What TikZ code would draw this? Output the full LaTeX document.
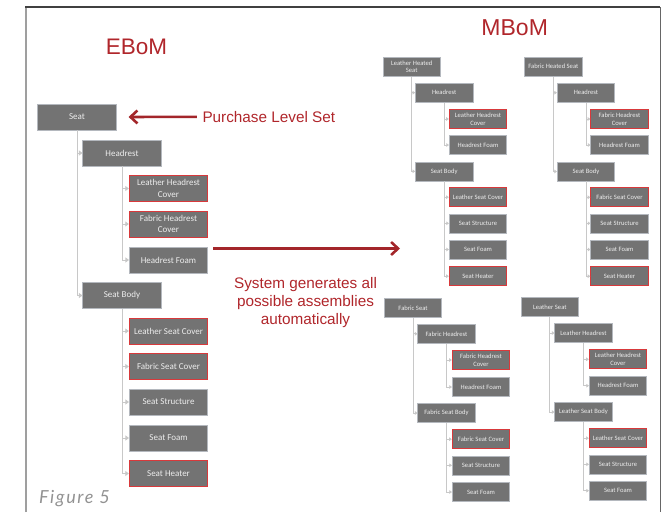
\documentclass[tikz,border=0pt]{standalone}
\usepackage{fontspec}
\setmainfont{Carlito}
\newfontfamily\labelfont{Liberation Sans}
\newfontfamily\figfont[LetterSpace=9]{Lato}
\usetikzlibrary{arrows.meta}

\definecolor{boxgray}{HTML}{737373}
\definecolor{boxedge}{HTML}{B4B8BE}
\definecolor{boxred}{HTML}{D8393B}
\definecolor{linegray}{HTML}{C8C8C8}
\definecolor{labred}{HTML}{B0262B}
\definecolor{arrred}{HTML}{A3262A}
\definecolor{capgray}{HTML}{929292}

\tikzset{
  box/.style={fill=boxgray, draw=boxedge, line width=0.6pt, text=white!93!black,
    align=center, inner sep=0pt},
  ebox/.style={box, minimum width=78.5pt, minimum height=26pt,
    font=\fontsize{9}{11.3}\selectfont},
  mbox/.style={box, minimum width=57.5pt, minimum height=19pt,
    font=\fontsize{6.6}{7.7}\selectfont},
  hot/.style={draw=boxred, line width=0.9pt},
  econn/.style={draw=linegray, line width=1pt,
    -{Triangle[length=3.5pt,width=5pt]}},
  mconn/.style={draw=linegray, line width=0.8pt,
    -{Triangle[length=2.6pt,width=3.6pt]}},
  bigarrow/.style={draw=arrred, line width=2.6pt,
    -{Straight Barb[length=7pt,width=13pt]}},
  redlabel/.style={text=labred, inner sep=0pt,
    font={\labelfont\fontsize{15.3}{18}\selectfont}},
}

\begin{document}
\begin{tikzpicture}[x=1pt,y=-1pt]
\useasboundingbox (0,0) rectangle (664,512);

% frame
\draw[draw=gray!75, line width=2pt] (26,512) -- (26,7);
\draw[draw=black!75, line width=1.4pt] (25,7) -- (660,7);
\draw[draw=black!60, line width=1pt] (660,7) -- (660,512);

% headings
\node[anchor=base, inner sep=0pt, text=labred,
  font={\labelfont\fontsize{22.5}{27}\selectfont}] (ebom) at (136.5,54) {EBoM};
\node[anchor=base, inner sep=0pt, text=labred,
  font={\labelfont\fontsize{23}{27}\selectfont}] (mbom) at (514.7,35) {MBoM};

% engineering bill of materials
\node[ebox] (e0) at (77,117) {Seat};
\node[ebox] (e1) at (122,153) {Headrest};
\node[ebox,hot] (e11) at (168.5,188.5) {Leather Headrest\\Cover};
\node[ebox,hot] (e12) at (168.5,224) {Fabric Headrest\\Cover};
\node[ebox] (e13) at (168.5,260) {Headrest Foam};
\node[ebox] (e2) at (122,295.5) {Seat Body};
\node[ebox,hot] (e21) at (168.5,331) {Leather Seat Cover};
\node[ebox,hot] (e22) at (168.5,366.5) {Fabric Seat Cover};
\node[ebox] (e23) at (168.5,402) {Seat Structure};
\node[ebox] (e24) at (168.5,438) {Seat Foam};
\node[ebox,hot] (e25) at (168.5,473.5) {Seat Heater};

\foreach \p/\c in {e0/e1,e0/e2,e1/e11,e1/e12,e1/e13,e2/e21,e2/e22,e2/e23,e2/e24,e2/e25}
  \draw[econn] (\p.south) |- (\c.west);

% manufacturing bill of materials: leather heated seat
\node[mbox] (a0) at (411.7,66.7) {Leather Heated\\Seat};
\node[mbox] (a1) at (444.2,92.7) {Headrest};
\node[mbox,hot] (a11) at (478,119) {Leather Headrest\\Cover};
\node[mbox] (a12) at (478,145) {Headrest Foam};
\node[mbox] (a2) at (444.2,171.3) {Seat Body};
\node[mbox,hot] (a21) at (478,197.2) {Leather Seat Cover};
\node[mbox] (a22) at (478,223.3) {Seat Structure};
\node[mbox] (a23) at (478,249.5) {Seat Foam};
\node[mbox,hot] (a24) at (478,276.2) {Seat Heater};

% fabric heated seat
\node[mbox] (b0) at (553.3,66.7) {Fabric Heated Seat};
\node[mbox] (b1) at (586,92.7) {Headrest};
\node[mbox,hot] (b11) at (619.5,119) {Fabric Headrest\\Cover};
\node[mbox] (b12) at (619.5,145) {Headrest Foam};
\node[mbox] (b2) at (586,171.5) {Seat Body};
\node[mbox,hot] (b21) at (619.5,197.3) {Fabric Seat Cover};
\node[mbox] (b22) at (619.5,223.3) {Seat Structure};
\node[mbox] (b23) at (619.5,249.5) {Seat Foam};
\node[mbox,hot] (b24) at (619.5,276.2) {Seat Heater};

% fabric seat
\node[mbox] (c0) at (413,307.8) {Fabric Seat};
\node[mbox] (c1) at (446.5,333.8) {Fabric Headrest};
\node[mbox,hot] (c11) at (481,360) {Fabric Headrest\\Cover};
\node[mbox] (c12) at (481,387) {Headrest Foam};
\node[mbox] (c2) at (446.5,413) {Fabric Seat Body};
\node[mbox,hot] (c21) at (481,439.2) {Fabric Seat Cover};
\node[mbox] (c22) at (481,465.3) {Seat Structure};
\node[mbox] (c23) at (481,492) {Seat Foam};

% leather seat
\node[mbox] (d0) at (549.8,307) {Leather Seat};
\node[mbox] (d1) at (583.5,333) {Leather Headrest};
\node[mbox,hot] (d11) at (618,359.3) {Leather Headrest\\Cover};
\node[mbox] (d12) at (618,385.7) {Headrest Foam};
\node[mbox] (d2) at (583.5,412) {Leather Seat Body};
\node[mbox,hot] (d21) at (618,438.2) {Leather Seat Cover};
\node[mbox] (d22) at (618,464.3) {Seat Structure};
\node[mbox] (d23) at (618,490.7) {Seat Foam};

\foreach \p/\c in {a0/a1,a0/a2,a1/a11,a1/a12,a2/a21,a2/a22,a2/a23,a2/a24,
                   b0/b1,b0/b2,b1/b11,b1/b12,b2/b21,b2/b22,b2/b23,b2/b24,
                   c0/c1,c0/c2,c1/c11,c1/c12,c2/c21,c2/c22,c2/c23,
                   d0/d1,d0/d2,d1/d11,d1/d12,d2/d21,d2/d22,d2/d23}
  \draw[mconn] (\p.south) |- (\c.west);

% annotations
\node[redlabel, anchor=base west] (purch) at (202.3,122.3) {Purchase Level Set};
\draw[bigarrow, shorten <=5.5pt, shorten >=12pt] (purch.west) -- (e0.east);

\coordinate (genstart) at (213,248.5);
\coordinate (genend) at (400,248.5);
\draw[bigarrow] (genstart) -- (genend);
\node[redlabel, align=center] (gen) at (305.5,303)
  {System generates all\\possible assemblies\\automatically};

% caption
\node[anchor=base west, inner sep=0pt, text=capgray,
  font={\figfont\itshape\fontsize{18}{20}\selectfont}] (cap) at (39,503) {Figure 5};
\end{tikzpicture}
\end{document}
